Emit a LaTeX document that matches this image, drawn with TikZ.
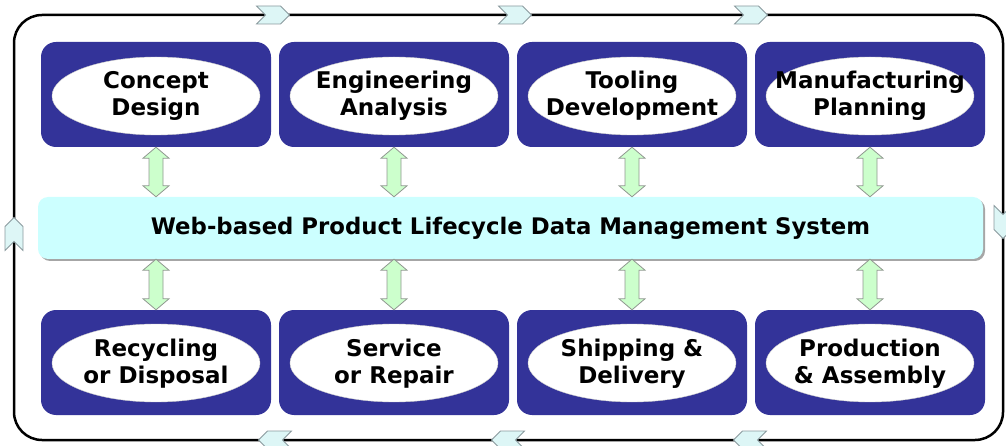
\documentclass[tikz,border=0pt]{standalone}
\usepackage{fontspec}
\setmainfont{DejaVu Sans}
\usetikzlibrary{calc,shapes.geometric}
\definecolor{navy}{HTML}{333399}
\definecolor{barcyan}{HTML}{CCFFFF}
\definecolor{arrgreen}{HTML}{CCFFCC}
\definecolor{arredge}{HTML}{909890}
\definecolor{chevfill}{HTML}{DDF6F6}
\definecolor{chevedge}{HTML}{8A9A9E}
\newcommand\vdarrow[2]{%
  \path let \p1=(#1), \p2=(#2) in
    [draw=arredge, fill=arrgreen, line width=0.8pt, line join=miter]
    (\x1,\y1) -- (\x1+13pt,\y1-11pt) -- (\x1+7pt,\y1-11pt) -- (\x1+7pt,\y2+11pt)
    -- (\x1+13pt,\y2+11pt) -- (\x1,\y2) -- (\x1-13pt,\y2+11pt) -- (\x1-7pt,\y2+11pt)
    -- (\x1-7pt,\y1-11pt) -- (\x1-13pt,\y1-11pt) -- cycle;}
\tikzset{
  x=1pt, y=-1pt,
  bluebox/.style={draw=none, fill=navy, rounded corners=15pt, minimum width=230pt, minimum height=105pt, inner sep=0pt},
  oval/.style={ellipse, fill=white, draw=black!20, line width=0.4pt, minimum width=208pt, minimum height=78pt, inner sep=0pt},
  label/.style={align=center, inner sep=0pt, font=\fontsize{23}{27}\selectfont\bfseries},
  chev/.pic={\path[draw=chevedge, fill=chevfill, line width=0.8pt, line join=miter]
      (-16.5,-9) -- (7.5,-9) -- (16.5,0) -- (7.5,9) -- (-16.5,9) -- (-7.5,0) -- cycle;},
  frame/.style={draw=black, line width=2.5pt, rounded corners=28pt},
  barstyle/.style={fill=barcyan, rounded corners=10pt, minimum width=945pt, minimum height=62pt, inner sep=0pt, font=\fontsize{22.8}{26}\selectfont\bfseries},
}
\begin{document}
\begin{tikzpicture}
\useasboundingbox (0,0) rectangle (1006,446);
% outer frame
\draw[frame] (14,15) rectangle (1003,440);
\pic at (273,15) {chev};
\pic at (515,15) {chev};
\pic at (751,15) {chev};
\pic[rotate=180] at (275,440) {chev};
\pic[rotate=180] at (508,440) {chev};
\pic[rotate=180] at (750,440) {chev};
\pic[rotate=90] at (14,234) {chev};
\pic[rotate=-90] at (1003,222) {chev};
% central bar with shadow
\fill[black!35, rounded corners=10pt] (40,199) rectangle (985,261);
\node[barstyle] (bar) at (510.5,228) {Web-based Product Lifecycle Data Management System};
% top boxes
\foreach \n/\x/\t in {t1/156/{Concept\\Design}, t2/394/{Engineering\\Analysis}, t3/632/{Tooling\\Development}, t4/870/{Manufacturing\\Planning}}{
  \node[bluebox] (\n) at (\x,94.5) {};
  \node[oval] (\n e) at (\x,96) {};
  \node[label] (\n l) at (\x,95.5) {\t};
}
\foreach \n/\x/\t in {b1/156/{Recycling\\or Disposal}, b2/394/{Service\\or Repair}, b3/632/{Shipping \&\\Delivery}, b4/870/{Production\\\& Assembly}}{
  \node[bluebox] (\n) at (\x,362.5) {};
  \node[oval] (\n e) at (\x,363) {};
  \node[label] (\n l) at (\x,364) {\t};
}
\foreach \i in {1,2,3,4}{
  \vdarrow{t\i.south}{t\i.south |- bar.north}
  \vdarrow{t\i.south |- bar.south}{b\i.north}
}
\end{tikzpicture}
\end{document}
